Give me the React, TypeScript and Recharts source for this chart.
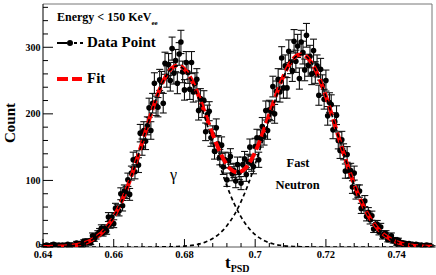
import React from 'react';
import { ComposedChart, Scatter, Line, XAxis, YAxis, ErrorBar, ReferenceLine } from 'recharts';

// histogram bin centres (t_PSD)
const TPSD = [
  0.64, 0.6405, 0.641, 0.6415, 0.642, 0.6425, 0.643, 0.6435, 0.644, 0.6445,
  0.645, 0.6455, 0.646, 0.6465, 0.647, 0.6475, 0.648, 0.6485, 0.649, 0.6495,
  0.65, 0.6505, 0.651, 0.6515, 0.652, 0.6525, 0.653, 0.6535, 0.654, 0.6545,
  0.655, 0.6555, 0.656, 0.6565, 0.657, 0.6575, 0.658, 0.6585, 0.659, 0.6595,
  0.66, 0.6605, 0.661, 0.6615, 0.662, 0.6625, 0.663, 0.6635, 0.664, 0.6645,
  0.665, 0.6655, 0.666, 0.6665, 0.667, 0.6675, 0.668, 0.6685, 0.669, 0.6695,
  0.67, 0.6705, 0.671, 0.6715, 0.672, 0.6725, 0.673, 0.6735, 0.674, 0.6745,
  0.675, 0.6755, 0.676, 0.6765, 0.677, 0.6775, 0.678, 0.6785, 0.679, 0.6795,
  0.68, 0.6805, 0.681, 0.6815, 0.682, 0.6825, 0.683, 0.6835, 0.684, 0.6845,
  0.685, 0.6855, 0.686, 0.6865, 0.687, 0.6875, 0.688, 0.6885, 0.689, 0.6895,
  0.69, 0.6905, 0.691, 0.6915, 0.692, 0.6925, 0.693, 0.6935, 0.694, 0.6945,
  0.695, 0.6955, 0.696, 0.6965, 0.697, 0.6975, 0.698, 0.6985, 0.699, 0.6995,
  0.7, 0.7005, 0.701, 0.7015, 0.702, 0.7025, 0.703, 0.7035, 0.704, 0.7045,
  0.705, 0.7055, 0.706, 0.7065, 0.707, 0.7075, 0.708, 0.7085, 0.709, 0.7095,
  0.71, 0.7105, 0.711, 0.7115, 0.712, 0.7125, 0.713, 0.7135, 0.714, 0.7145,
  0.715, 0.7155, 0.716, 0.7165, 0.717, 0.7175, 0.718, 0.7185, 0.719, 0.7195,
  0.72, 0.7205, 0.721, 0.7215, 0.722, 0.7225, 0.723, 0.7235, 0.724, 0.7245,
  0.725, 0.7255, 0.726, 0.7265, 0.727, 0.7275, 0.728, 0.7285, 0.729, 0.7295,
  0.73, 0.7305, 0.731, 0.7315, 0.732, 0.7325, 0.733, 0.7335, 0.734, 0.7345,
  0.735, 0.7355, 0.736, 0.7365, 0.737, 0.7375, 0.738, 0.7385, 0.739, 0.7395,
  0.74, 0.7405, 0.741, 0.7415, 0.742, 0.7425, 0.743, 0.7435, 0.744, 0.7445,
  0.745, 0.7455, 0.746, 0.7465, 0.747, 0.7475, 0.748, 0.7485, 0.749, 0.7495,
  0.75,
];

const COUNTS = [
  2, 1, 3, 2, 1, 3, 4, 2, 2, 3, 1, 3, 2, 2, 4, 1, 3, 3, 2, 6,
  3, 5, 1, 8, 9, 6, 9, 6, 17, 12, 16, 20, 23, 28, 21, 28, 24, 45, 34, 45,
  35, 58, 56, 54, 80, 62, 84, 82, 101, 79, 111, 131, 113, 133, 123, 171, 150, 175, 159, 182,
  209, 175, 216, 246, 212, 210, 251, 248, 216, 276, 256, 274, 250, 298, 261, 280, 246, 290, 308, 263,
  236, 277, 262, 237, 277, 233, 246, 252, 205, 223, 209, 220, 173, 199, 204, 164, 169, 144, 179, 155,
  135, 153, 120, 131, 101, 130, 136, 110, 115, 99, 124, 112, 96, 124, 132, 109, 128, 150, 125, 121,
  151, 164, 131, 163, 181, 166, 205, 175, 206, 204, 241, 200, 234, 252, 233, 284, 239, 272, 239, 294,
  277, 265, 309, 279, 302, 253, 308, 292, 266, 318, 273, 286, 260, 295, 262, 272, 228, 267, 243, 222,
  250, 197, 217, 214, 176, 188, 198, 160, 145, 161, 143, 114, 139, 114, 115, 90, 111, 81, 84, 84,
  58, 63, 69, 46, 52, 41, 47, 27, 34, 34, 23, 30, 16, 20, 20, 11, 13, 17, 9, 11,
  5, 10, 7, 4, 6, 5, 3, 5, 3, 4, 2, 4, 3, 2, 3, 1, 2, 3, 2, 2, 1,
];

const ERRORS = [
  1.4, 1, 1.7, 1.4, 1, 1.7, 2, 1.4, 1.4, 1.7, 1, 1.7, 1.4, 1.4, 2, 1, 1.7, 1.7, 1.4, 2.4,
  1.7, 2.2, 1, 2.8, 3, 2.4, 3, 2.4, 4.1, 3.5, 4, 4.5, 4.8, 5.3, 4.6, 5.3, 4.9, 6.7, 5.8, 6.7,
  5.9, 7.6, 7.5, 7.3, 8.9, 7.9, 9.2, 9.1, 10, 8.9, 10.5, 11.4, 10.6, 11.5, 11.1, 13.1, 12.2, 13.2, 12.6, 13.5,
  14.5, 13.2, 14.7, 15.7, 14.6, 14.5, 15.8, 15.7, 14.7, 16.6, 16, 16.6, 15.8, 17.3, 16.2, 16.7, 15.7, 17, 17.5, 16.2,
  15.4, 16.6, 16.2, 15.4, 16.6, 15.3, 15.7, 15.9, 14.3, 14.9, 14.5, 14.8, 13.2, 14.1, 14.3, 12.8, 13, 12, 13.4, 12.4,
  11.6, 12.4, 11, 11.4, 10, 11.4, 11.7, 10.5, 10.7, 9.9, 11.1, 10.6, 9.8, 11.1, 11.5, 10.4, 11.3, 12.2, 11.2, 11,
  12.3, 12.8, 11.4, 12.8, 13.5, 12.9, 14.3, 13.2, 14.4, 14.3, 15.5, 14.1, 15.3, 15.9, 15.3, 16.9, 15.5, 16.5, 15.5, 17.1,
  16.6, 16.3, 17.6, 16.7, 17.4, 15.9, 17.5, 17.1, 16.3, 17.8, 16.5, 16.9, 16.1, 17.2, 16.2, 16.5, 15.1, 16.3, 15.6, 14.9,
  15.8, 14, 14.7, 14.6, 13.3, 13.7, 14.1, 12.6, 12, 12.7, 12, 10.7, 11.8, 10.7, 10.7, 9.5, 10.5, 9, 9.2, 9.2,
  7.6, 7.9, 8.3, 6.8, 7.2, 6.4, 6.9, 5.2, 5.8, 5.8, 4.8, 5.5, 4, 4.5, 4.5, 3.3, 3.6, 4.1, 3, 3.3,
  2.2, 3.2, 2.6, 2, 2.4, 2.2, 1.7, 2.2, 1.7, 2, 1.4, 2, 1.7, 1.4, 1.7, 1, 1.4, 1.7, 1.4, 1.4, 1,
];

// fit curves sampled every 0.001
const FIT_X = [
  0.64, 0.641, 0.642, 0.643, 0.644, 0.645, 0.646, 0.647, 0.648, 0.649,
  0.65, 0.651, 0.652, 0.653, 0.654, 0.655, 0.656, 0.657, 0.658, 0.659,
  0.66, 0.661, 0.662, 0.663, 0.664, 0.665, 0.666, 0.667, 0.668, 0.669,
  0.67, 0.671, 0.672, 0.673, 0.674, 0.675, 0.676, 0.677, 0.678, 0.679,
  0.68, 0.681, 0.682, 0.683, 0.684, 0.685, 0.686, 0.687, 0.688, 0.689,
  0.69, 0.691, 0.692, 0.693, 0.694, 0.695, 0.696, 0.697, 0.698, 0.699,
  0.7, 0.701, 0.702, 0.703, 0.704, 0.705, 0.706, 0.707, 0.708, 0.709,
  0.71, 0.711, 0.712, 0.713, 0.714, 0.715, 0.716, 0.717, 0.718, 0.719,
  0.72, 0.721, 0.722, 0.723, 0.724, 0.725, 0.726, 0.727, 0.728, 0.729,
  0.73, 0.731, 0.732, 0.733, 0.734, 0.735, 0.736, 0.737, 0.738, 0.739,
  0.74, 0.741, 0.742, 0.743, 0.744, 0.745, 0.746, 0.747, 0.748, 0.749, 0.75,
];

const FIT = [
  0.1, 0.1, 0.2, 0.3, 0.45, 0.65, 0.9, 1.3, 1.9, 2.6,
  3.5, 4.8, 6.4, 8.5, 11.2, 14.5, 18.6, 23.6, 29.6, 36.8,
  45.2, 54.9, 65.9, 78.2, 91.8, 106.7, 122.5, 139.1, 156.3, 173.6,
  190.8, 207.3, 222.9, 236.9, 249.0, 259.0, 266.3, 270.9, 272.6, 271.4,
  267.3, 260.5, 251.3, 240.0, 227.2, 213.0, 198.3, 183.4, 169.0, 155.3,
  143.0, 132.4, 123.7, 117.3, 113.4, 112.1, 113.4, 117.2, 123.4, 132.1,
  142.8, 155.2, 169.0, 183.8, 199.2, 214.7, 229.7, 244.0, 256.9, 268.1,
  277.2, 284.0, 288.1, 289.3, 287.8, 283.4, 276.3, 266.8, 255.0, 241.4,
  226.2, 209.9, 192.8, 175.3, 157.8, 140.7, 124.2, 108.5, 93.8, 80.4,
  68.2, 57.2, 47.5, 39.1, 31.9, 25.7, 20.5, 16.2, 12.7, 9.8,
  7.5, 5.7, 4.3, 3.2, 2.4, 1.7, 1.25, 0.9, 0.6, 0.44, 0.3,
];

const GAMMA = [
  0.1, 0.1, 0.2, 0.3, 0.45, 0.65, 0.9, 1.3, 1.9, 2.6,
  3.5, 4.8, 6.4, 8.5, 11.2, 14.5, 18.6, 23.6, 29.6, 36.8,
  45.2, 54.9, 65.9, 78.2, 91.8, 106.7, 122.5, 139.1, 156.3, 173.6,
  190.8, 207.3, 222.9, 236.8, 248.9, 258.8, 266.0, 270.5, 272, 270.5,
  266.0, 258.8, 248.9, 236.8, 222.9, 207.3, 190.8, 173.6, 156.3, 139.1,
  122.5, 106.7, 91.8, 78.2, 65.9, 54.9, 45.2, 36.8, 29.6, 23.6,
  18.6, 14.5, 11.2, 8.5, 6.4, 4.8, 3.5, 2.6, 1.9, 1.3,
  0.9, 0.65, 0.45, 0.3, 0.2, 0.1, 0, 0, 0, 0,
  0, 0, 0, 0, 0, 0, 0, 0, 0, 0,
  0, 0, 0, 0, 0, 0, 0, 0, 0, 0,
  0, 0, 0, 0, 0, 0, 0, 0, 0, 0, 0,
];

const NEUTRON = [
  0, 0, 0, 0, 0, 0, 0, 0, 0, 0,
  0, 0, 0, 0, 0, 0, 0, 0, 0, 0,
  0, 0, 0, 0, 0, 0, 0, 0, 0, 0,
  0, 0, 0, 0.1, 0.15, 0.2, 0.3, 0.44, 0.6, 0.9,
  1.25, 1.7, 2.4, 3.2, 4.3, 5.7, 7.5, 9.8, 12.7, 16.2,
  20.5, 25.7, 31.9, 39.1, 47.5, 57.2, 68.2, 80.4, 93.8, 108.5,
  124.2, 140.7, 157.8, 175.3, 192.8, 209.9, 226.2, 241.4, 255.0, 266.8,
  276.3, 283.3, 287.6, 289, 287.6, 283.3, 276.3, 266.8, 255.0, 241.4,
  226.2, 209.9, 192.8, 175.3, 157.8, 140.7, 124.2, 108.5, 93.8, 80.4,
  68.2, 57.2, 47.5, 39.1, 31.9, 25.7, 20.5, 16.2, 12.7, 9.8,
  7.5, 5.7, 4.3, 3.2, 2.4, 1.7, 1.25, 0.9, 0.6, 0.44, 0.3,
];

const X_MAJOR = [0.64, 0.66, 0.68, 0.7, 0.72, 0.74];
const X_MINOR = [
  0.644, 0.648, 0.652, 0.656, 0.664, 0.668, 0.672, 0.676, 0.684, 0.688, 0.692,
  0.696, 0.704, 0.708, 0.712, 0.716, 0.724, 0.728, 0.732, 0.736, 0.744, 0.748,
];
const Y_MAJOR = [0, 100, 200, 300];
const Y_MINOR = [20, 40, 60, 80, 120, 140, 160, 180, 220, 240, 260, 280, 320, 340, 360];

const SERIF = '"Liberation Serif", "Times New Roman", serif';

const points = TPSD.map((x, i) => ({ x, y: COUNTS[i], err: ERRORS[i] }));
const curve = (ys: number[]) => FIT_X.map((x, i) => ({ x, y: ys[i] }));

const XTick = (props: any) => {
  const { x, y, payload } = props;
  const major = X_MAJOR.includes(payload.value);
  return (
    <g>
      <line x1={x} x2={x} y1={y} y2={y - (major ? 8 : 4)} stroke="#000" />
      {major && (
        <text x={x} y={y + 11} textAnchor="middle" fontFamily={SERIF} fontWeight="bold" fontSize={10.5} fill="#000">
          {String(payload.value)}
        </text>
      )}
    </g>
  );
};

const YTick = (props: any) => {
  const { x, y, payload } = props;
  const major = Y_MAJOR.includes(payload.value);
  // the zero label sits a little higher so it clears the x labels
  const dy = payload.value === 0 ? 0.5 : 3.5;
  return (
    <g>
      <line x1={x} x2={x + (major ? 10 : 5)} y1={y} y2={y} stroke="#000" />
      {major && (
        <text x={x - 2.5} y={y + dy} textAnchor="end" fontFamily={SERIF} fontWeight="bold" fontSize={10} fill="#000">
          {payload.value}
        </text>
      )}
    </g>
  );
};

const Dot = (props: any) => <circle cx={props.cx} cy={props.cy} r={2.8} fill="#000" />;

export default function App() {
  return (
    <div style={{ position: 'absolute', left: 0, top: 0, width: 436, height: 275, background: '#fff' }}>
      <ComposedChart width={436} height={275} margin={{ top: 4, right: 4, left: 0, bottom: 0 }}>
        <XAxis
          type="number"
          dataKey="x"
          domain={[0.64, 0.75]}
          allowDataOverflow
          ticks={[...X_MAJOR, ...X_MINOR]}
          interval={0}
          tickSize={0}
          tickMargin={0}
          tickLine={false}
          tick={<XTick />}
          height={28}
          axisLine={{ stroke: '#555' }}
        />
        <YAxis
          type="number"
          domain={[0, 365]}
          allowDataOverflow
          ticks={[...Y_MAJOR, ...Y_MINOR]}
          interval={0}
          tickSize={0}
          tickMargin={0}
          tickLine={false}
          tick={<YTick />}
          width={43}
          axisLine={{ stroke: '#000' }}
        />
        <ReferenceLine y={365} stroke="#777" />
        <ReferenceLine x={0.75} stroke="#777" />
        <Scatter data={points} dataKey="y" shape={<Dot />} isAnimationActive={false}>
          <ErrorBar dataKey="err" direction="y" width={3.5} stroke="#111" strokeWidth={1.1} />
        </Scatter>
        <Line
          data={curve(FIT)}
          dataKey="y"
          type="monotone"
          stroke="#ff0000"
          strokeWidth={4}
          strokeDasharray="10 4"
          dot={false}
          isAnimationActive={false}
          zIndex={700}
        />
        <Line
          data={curve(GAMMA)}
          dataKey="y"
          type="monotone"
          stroke="#000"
          strokeWidth={1.7}
          strokeDasharray="4 3"
          dot={false}
          isAnimationActive={false}
          zIndex={710}
        />
        <Line
          data={curve(NEUTRON)}
          dataKey="y"
          type="monotone"
          stroke="#000"
          strokeWidth={1.7}
          strokeDasharray="4 3"
          dot={false}
          isAnimationActive={false}
          zIndex={710}
        />
      </ComposedChart>
      <svg
        width={436}
        height={275}
        style={{ position: 'absolute', left: 0, top: 0, pointerEvents: 'none' }}
        fontFamily={SERIF}
        fontWeight="bold"
      >
        <text x={57} y={21} fontSize={12}>
          Energy &lt; 150 KeV<tspan fontSize={7} dy={4}>ee</tspan>
        </text>
        <path d="M57 43 H67 M74 43 H77 M80 43 H83" stroke="#000" strokeWidth={2} />
        <circle cx={70} cy={43} r={3} fill="#000" />
        <text x={87} y={47} fontSize={15}>Data Point</text>
        <path d="M57 79 H68 M72 79 H82" stroke="#ff0000" strokeWidth={4} />
        <text x={87} y={83} fontSize={15}>Fit</text>
        <text x={15} y={123} fontSize={15} textAnchor="middle" transform="rotate(-90 15 123)">Count</text>
        <text x={225} y={268} fontSize={17}>
          t<tspan fontSize={10} dy={4}>PSD</tspan>
        </text>
        <text x={170} y={180} fontSize={16} fontWeight="normal">γ</text>
        <text x={298} y={167} fontSize={12.5} textAnchor="middle">Fast</text>
        <text x={297.5} y={189} fontSize={12.5} textAnchor="middle">Neutron</text>
      </svg>
    </div>
  );
}
